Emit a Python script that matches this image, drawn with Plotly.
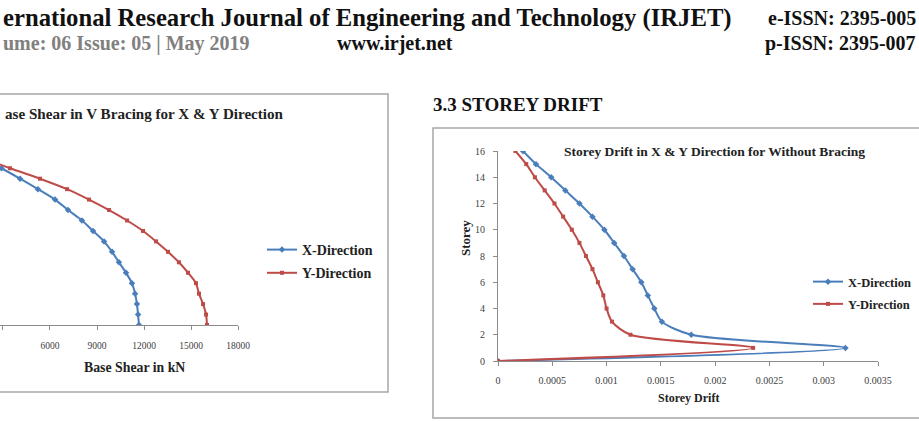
import plotly.graph_objects as go

W, H = 919, 422
def px(x): return x / W
def py(y): return 1 - y / H

# ---------------- data ----------------
# Left chart: Base shear in V bracing (kN) per storey
storeys_bs = list(range(0, 17))
bs_x_dir = [11680, 11620, 11550, 11430, 11230, 10850, 10400, 9960, 9450, 8750,
            8040, 7150, 6320, 5230, 4090, 2900, 1600]
bs_y_dir = [16020, 15960, 15770, 15510, 15320, 14810, 14230, 13530, 12770, 11940,
            10920, 9770, 8490, 7090, 5360, 3450, 1700]
bs_ticks = [3000, 6000, 9000, 12000, 15000, 18000]

# Right chart: storey drift without bracing
storeys_sd = list(range(0, 17))
sd_x_dir = [0, 0.00320, 0.00178, 0.00151, 0.00144, 0.00138, 0.00132, 0.00124, 0.00116,
            0.00107, 0.00098, 0.00087, 0.00075, 0.00062, 0.00049, 0.00035, 0.00023]
sd_y_dir = [0, 0.00235, 0.00122, 0.00105, 0.00100, 0.00097, 0.00092, 0.00087, 0.00081,
            0.00075, 0.00068, 0.00060, 0.00052, 0.00043, 0.00034, 0.00026, 0.00016]
sd_xticks = [0, 0.0005, 0.001, 0.0015, 0.002, 0.0025, 0.003, 0.0035]
sd_yticks = [0, 2, 4, 6, 8, 10, 12, 14, 16]

BLUE = "#4A7EBB"
RED = "#BE4B48"
SERIF = "Liberation Serif, Times New Roman, serif"
AXC = "#8C8C8C"

fig = go.Figure()

line_kw = dict(shape="spline", smoothing=0.8, width=2)
fig.add_trace(go.Scatter(x=bs_x_dir, y=storeys_bs, mode="lines+markers", name="<b>X-Direction</b>",
                         line=dict(color=BLUE, **line_kw),
                         marker=dict(symbol="diamond", size=5, color=BLUE),
                         xaxis="x", yaxis="y", legend="legend", legendgroup="a"))
fig.add_trace(go.Scatter(x=bs_y_dir, y=storeys_bs, mode="lines+markers", name="<b>Y-Direction</b>",
                         line=dict(color=RED, **line_kw),
                         marker=dict(symbol="square", size=4, color=RED),
                         xaxis="x", yaxis="y", legend="legend", legendgroup="b"))
fig.add_trace(go.Scatter(x=sd_x_dir, y=storeys_sd, mode="lines+markers", name="<b>X-Direction</b>",
                         line=dict(color=BLUE, **line_kw),
                         marker=dict(symbol="diamond", size=5, color=BLUE),
                         xaxis="x2", yaxis="y2", legend="legend2", legendgroup="c"))
fig.add_trace(go.Scatter(x=sd_y_dir, y=storeys_sd, mode="lines+markers", name="<b>Y-Direction</b>",
                         line=dict(color=RED, **line_kw),
                         marker=dict(symbol="square", size=4, color=RED),
                         xaxis="x2", yaxis="y2", legend="legend2", legendgroup="d"))

tickfont_l = dict(family=SERIF, size=9.5, color="#404040")
tickfont_r = dict(family=SERIF, size=10, color="#404040")

fig.update_layout(
    width=W, height=H, margin=dict(l=0, r=0, t=0, b=0, autoexpand=False),
    paper_bgcolor="white", plot_bgcolor="white",
    xaxis=dict(domain=[0, px(238)], range=[2809, 18000], tickvals=bs_ticks,
               ticktext=[str(v) for v in bs_ticks],
               showgrid=False, zeroline=False, showline=True, linecolor=AXC, linewidth=1,
               ticks="outside", ticklen=4, tickcolor=AXC, tickfont=tickfont_l, ticklabelstandoff=8,
               anchor="y"),
    yaxis=dict(domain=[py(325), py(116)], range=[0, 20], showgrid=False, zeroline=False,
               showline=False, showticklabels=False, ticks="", anchor="x"),
    xaxis2=dict(domain=[px(498), px(878)], range=[0, 0.0035], tickvals=sd_xticks,
                ticktext=[str(v) for v in sd_xticks],
                showgrid=False, zeroline=False, showline=True, linecolor=AXC, linewidth=1,
                ticks="outside", ticklen=4, tickcolor=AXC, tickfont=tickfont_r, ticklabelstandoff=6,
                anchor="y2"),
    yaxis2=dict(domain=[py(361), py(151)], range=[0, 16], tickvals=sd_yticks,
                showgrid=False, zeroline=False, showline=True, linecolor=AXC, linewidth=1,
                ticks="outside", ticklen=4, tickcolor=AXC, tickfont=tickfont_r, ticklabelstandoff=6,
                anchor="x2"),
    legend=dict(x=px(262), y=py(234), xanchor="left", yanchor="top",
                font=dict(family=SERIF, size=14, color="#222"), bgcolor="rgba(0,0,0,0)",
                tracegroupgap=2, itemwidth=30),
    legend2=dict(x=px(808), y=py(267), xanchor="left", yanchor="top",
                 font=dict(family=SERIF, size=12.5, color="#222"), bgcolor="rgba(0,0,0,0)",
                 tracegroupgap=3, itemwidth=30),
    showlegend=True,
)

shapes = [
    dict(type="rect", xref="paper", yref="paper", x0=px(-5), x1=px(388), y0=py(392), y1=py(94),
         line=dict(color="#A6A6A6", width=1.5), fillcolor="rgba(0,0,0,0)", layer="below"),
    dict(type="rect", xref="paper", yref="paper", x0=px(433), x1=px(925), y0=py(418), y1=py(128),
         line=dict(color="#A6A6A6", width=1.5), fillcolor="rgba(0,0,0,0)", layer="below"),
]
fig.update_layout(shapes=shapes)

HEAD = "Liberation Serif, serif"
ann = [
    # page header (visible part of the scanned page)
    dict(text="<b>ernational Research Journal of Engineering and Technology (IRJET)</b>",
         x=px(1), y=py(18), xanchor="left", yanchor="middle",
         font=dict(family=HEAD, size=24.7, color="#111")),
    dict(text="<b>e-ISSN: 2395-005</b>", x=px(918), y=py(18), xanchor="right", yanchor="middle",
         font=dict(family=HEAD, size=20, color="#111")),
    dict(text="<b>ume: 06 Issue: 05 | May 2019</b>", x=px(1), y=py(43), xanchor="left",
         yanchor="middle", font=dict(family=HEAD, size=20, color="#808080")),
    dict(text="<b>www.irjet.net</b>", x=px(335), y=py(43), xanchor="left", yanchor="middle",
         font=dict(family=HEAD, size=20, color="#111")),
    dict(text="<b>p-ISSN: 2395-007</b>", x=px(918), y=py(43), xanchor="right", yanchor="middle",
         font=dict(family=HEAD, size=20, color="#111")),
    dict(text="<b>3.3 STOREY DRIFT</b>", x=px(431), y=py(104), xanchor="left", yanchor="middle",
         font=dict(family=HEAD, size=19, color="#111")),
    # chart titles
    dict(text="<b>ase Shear in V Bracing for X &amp; Y Direction</b>", x=px(286), y=py(114),
         xanchor="right", yanchor="middle", font=dict(family=SERIF, size=15.1, color="#222")),
    dict(text="<b>Storey Drift in X &amp; Y Direction for Without Bracing</b>", x=px(714), y=py(151),
         xanchor="center", yanchor="middle", font=dict(family=SERIF, size=13.5, color="#222")),
    # axis titles
    dict(text="<b>Base Shear in kN</b>", x=px(134), y=py(367), xanchor="center", yanchor="middle",
         font=dict(family=SERIF, size=13.8, color="#222")),
    dict(text="<b>Storey Drift</b>", x=px(688), y=py(398), xanchor="center", yanchor="middle",
         font=dict(family=SERIF, size=12, color="#222")),
    dict(text="<b>Storey</b>", x=px(465), y=py(238), xanchor="center", yanchor="middle",
         textangle=-90, font=dict(family=SERIF, size=13, color="#222")),
]
for a in ann:
    a.update(xref="paper", yref="paper", showarrow=False)
fig.update_layout(annotations=ann)

fig.write_html("out.html")
